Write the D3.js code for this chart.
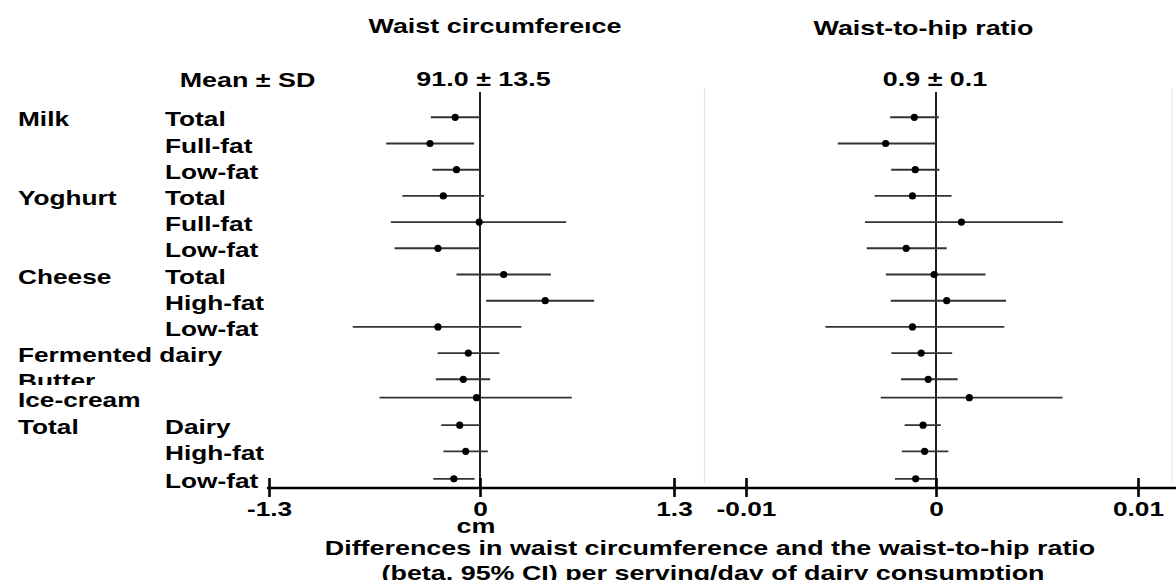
<!DOCTYPE html>
<html>
<head>
<meta charset="utf-8">
<script src="https://cdn.jsdelivr.net/npm/d3@7"></script>
<style>
  html, body { margin: 0; padding: 0; background: #fff; }
  svg { display: block; }
  text { font-family: "Liberation Sans", Arial, sans-serif; font-weight: bold; fill: #000; }
</style>
</head>
<body>
<svg id="chart" width="1176" height="580"></svg>
<script>
// ---------- data ----------
const groupLabels = ["Milk", "", "", "Yoghurt", "", "", "Cheese", "", "", "Fermented dairy", "Butter", "Ice-cream", "Total", "", ""];
const subLabels   = ["Total", "Full-fat", "Low-fat", "Total", "Full-fat", "Low-fat", "Total", "High-fat", "Low-fat", "", "", "", "Dairy", "High-fat", "Low-fat"];
const rowPos      = [0, 1, 2, 3, 4, 5, 6, 7, 8, 9, 10, 10.7, 11.75, 12.75, 13.8];

// Waist circumference (cm): beta and 95% CI
const wcBeta = [-0.153, -0.308, -0.145, -0.226, -0.005, -0.259, 0.159, 0.437, -0.259, -0.072, -0.103, -0.021, -0.125, -0.088, -0.161];
const wcLow  = [-0.303, -0.578, -0.293, -0.478, -0.549, -0.526, -0.145, 0.041, -0.784, -0.261, -0.272, -0.619, -0.239, -0.225, -0.288];
const wcHigh = [0.000, -0.036, 0.000, 0.028, 0.577, 0.005, 0.475, 0.765, 0.277, 0.130, 0.068, 0.615, -0.004, 0.053, -0.033];

// Waist-to-hip ratio: beta and 95% CI
const whrBeta = [-0.00114, -0.00265, -0.00109, -0.00124, 0.00126, -0.00157, -0.00010, 0.00053, -0.00124, -0.00078, -0.00041, 0.00165, -0.00068, -0.00060, -0.00107];
const whrLow  = [-0.00241, -0.00517, -0.00236, -0.00323, -0.00374, -0.00364, -0.00264, -0.00238, -0.00582, -0.00235, -0.00184, -0.00291, -0.00165, -0.00180, -0.00216];
const whrHigh = [0.00014, -0.00005, 0.00017, 0.00077, 0.00628, 0.00053, 0.00245, 0.00347, 0.00338, 0.00080, 0.00107, 0.00626, 0.00024, 0.00061, 0.00000];

const panelTitles = ["Waist circumfereıce", "Waist-to-hip ratio"];
const meanLabel = "Mean ± SD";
const meanValues = ["91.0 ± 13.5", "0.9 ± 0.1"];
const ticksWC = [-1.3, 0, 1.3];
const tickLabelsWC = ["-1.3", "0", "1.3"];
const ticksWHR = [-0.01, 0, 0.01];
const tickLabelsWHR = ["-0.01", "0", "0.01"];
const unitLabel = "cm";
const xTitle = ["Differences in waist circumference and the waist-to-hip ratio",
                "(beta, 95% CI) per serving/day of dairy consumption"];

// ---------- layout ----------
const W = 1176, H = 580;
const STRETCH = 1.28;
const svg = d3.select("#chart");

const xL = d3.scaleLinear().domain([-1.3, 0, 1.3]).range([269, 480, 674]);
const xR = d3.scaleLinear().domain([-0.01, 0, 0.01]).range([746, 936, 1138]);
const y = d3.scaleLinear().domain([0, 10]).range([117.3, 379.3]);
const axisY = 488;
const topY = 92;

function label(parent, str, x, yy, anchor, size) {
  return parent.append("text")
    .attr("transform", `translate(${x},${yy}) scale(${STRETCH},1)`)
    .attr("text-anchor", anchor)
    .style("font-size", size + "px")
    .text(str);
}

// faint panel borders
svg.append("g").selectAll("line").data([704.5, 1172]).join("line")
  .attr("x1", d => d).attr("x2", d => d)
  .attr("y1", 88).attr("y2", 483)
  .attr("stroke", "#e6e6e6").attr("stroke-width", 1.2);

// titles
label(svg, panelTitles[0], 495, 33, "middle", 21);
label(svg, panelTitles[1], 923.5, 35, "middle", 21);
label(svg, meanLabel, 247.5, 87, "middle", 21);
label(svg, meanValues[0], 483.5, 86, "middle", 21);
label(svg, meanValues[1], 935, 86, "middle", 21);

// row labels
const rows = rowPos.map((p, i) => ({ p, i, g: groupLabels[i], s: subLabels[i] }));
const defs = svg.append("defs");
defs.append("clipPath").attr("id", "butterClip")
  .append("rect").attr("x", 0).attr("y", 0).attr("width", 200).attr("height", 385);

const labG = svg.append("g");
rows.forEach(r => {
  if (r.g) {
    const t = label(labG, r.g, 18, y(r.p) + 9, "start", 20.5);
    if (r.g === "Butter") t.attr("clip-path", null);
  }
  if (r.s) label(labG, r.s, 165, y(r.p) + 9, "start", 20.5);
});
// Butter label is partly hidden in the reference
labG.selectAll("text").filter(function () { return d3.select(this).text() === "Butter"; })
  .each(function () {
    const node = this;
    const wrap = labG.append("g").attr("clip-path", "url(#butterClip)");
    wrap.node().appendChild(node);
  });

// zero reference lines
svg.append("g").selectAll("line").data([xL(0), xR(0)]).join("line")
  .attr("x1", d => d).attr("x2", d => d)
  .attr("y1", topY).attr("y2", axisY)
  .attr("stroke", "#222").attr("stroke-width", 2);

// CI lines + points
function drawPanel(x, beta, lo, hi) {
  const g = svg.append("g");
  g.selectAll("line.ci").data(rows).join("line").attr("class", "ci")
    .attr("x1", d => x(lo[d.i])).attr("x2", d => x(hi[d.i]))
    .attr("y1", d => y(d.p)).attr("y2", d => y(d.p))
    .attr("stroke", "#333").attr("stroke-width", 1.9);
  g.selectAll("circle").data(rows).join("circle")
    .attr("cx", d => x(beta[d.i])).attr("cy", d => y(d.p))
    .attr("r", 3.6).attr("fill", "#000");
}
drawPanel(xL, wcBeta, wcLow, wcHigh);
drawPanel(xR, whrBeta, whrLow, whrHigh);

// axes
svg.append("line")
  .attr("x1", 267).attr("x2", W).attr("y1", axisY).attr("y2", axisY)
  .attr("stroke", "#000").attr("stroke-width", 2.6);

function drawAxis(x, vals, labs) {
  const ax = d3.axisBottom(x).tickValues(vals).tickSize(9).tickSizeOuter(0)
    .tickFormat((d, i) => labs[i]);
  const g = svg.append("g").attr("transform", `translate(0,${axisY})`).call(ax);
  g.select(".domain").remove();
  g.selectAll(".tick line").attr("y1", -10).attr("y2", 9)
    .attr("stroke", "#000").attr("stroke-width", 2.6);
  g.selectAll(".tick text")
    .attr("y", 28).attr("dy", 0)
    .attr("transform", `scale(${STRETCH},1)`)
    .style("font-size", "20.5px")
    .style("font-family", "'Liberation Sans', Arial, sans-serif")
    .style("font-weight", "bold")
    .attr("fill", "#000");
}
drawAxis(xL, ticksWC, tickLabelsWC);
drawAxis(xR, ticksWHR, tickLabelsWHR);

label(svg, unitLabel, 476, 533, "middle", 21);
label(svg, xTitle[0], 710, 555, "middle", 21);
label(svg, xTitle[1], 713, 580, "middle", 21);
</script>
</body>
</html>
